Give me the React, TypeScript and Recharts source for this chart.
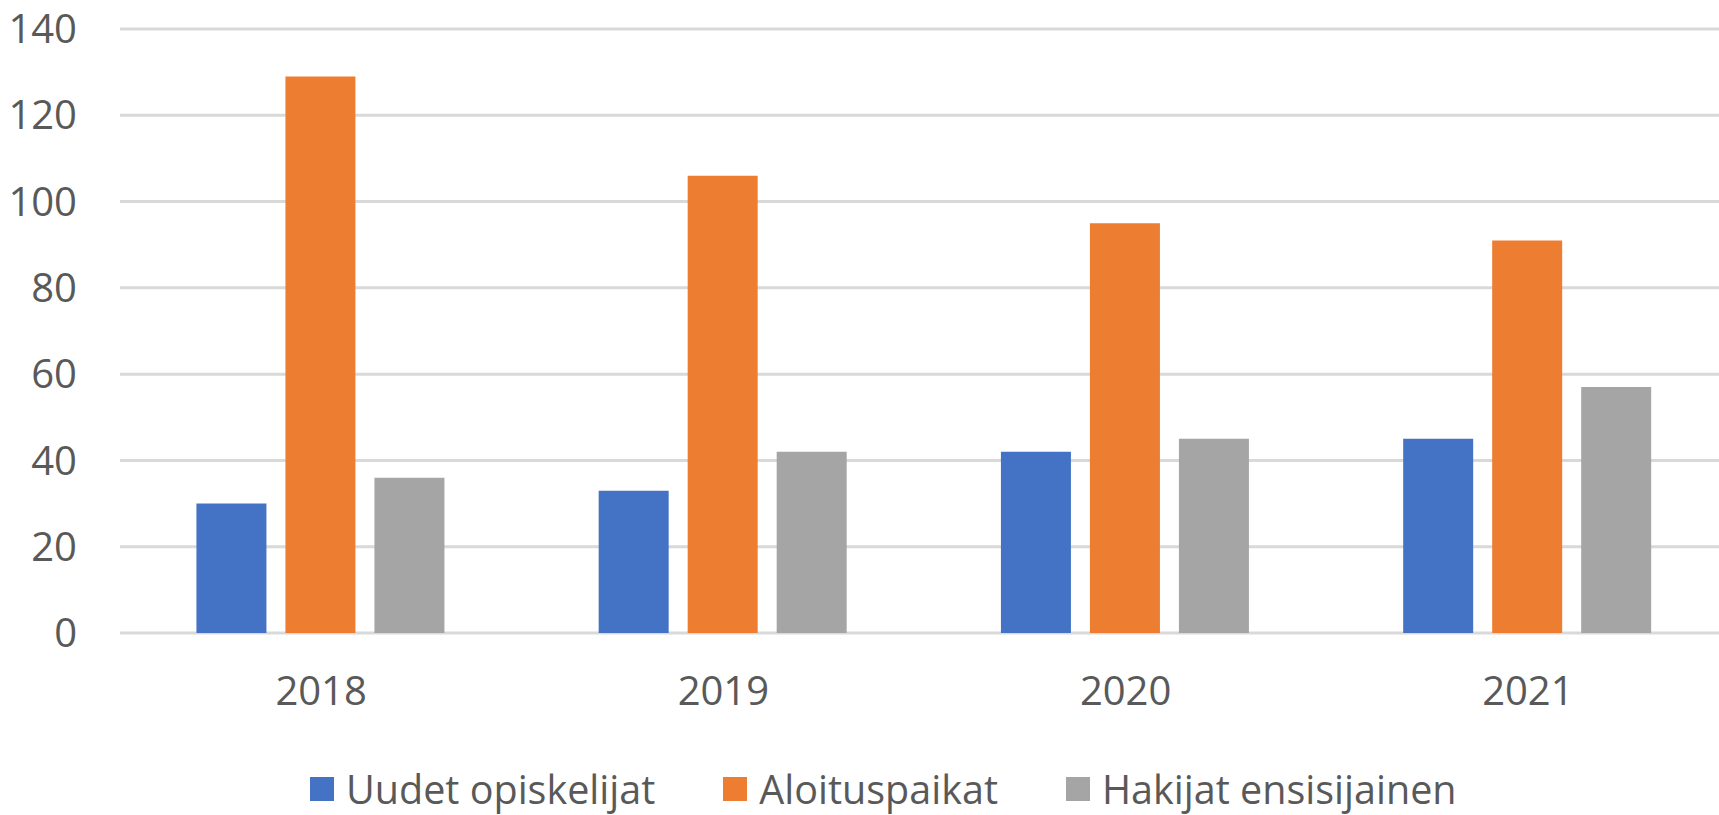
import React from "react";
import {
  BarChart,
  Bar,
  XAxis,
  YAxis,
  CartesianGrid,
  Legend,
} from "recharts";

const years = ["2018", "2019", "2020", "2021"];
const uudetOpiskelijat = [30, 33, 42, 45];
const aloituspaikat = [129, 106, 95, 91];
const hakijatEnsisijainen = [36, 42, 45, 57];
const yTicks = [0, 20, 40, 60, 80, 100, 120, 140];
const seriesOrder = ["Uudet opiskelijat", "Aloituspaikat", "Hakijat ensisijainen"];

const data = years.map((year, i) => ({
  year,
  uudet: uudetOpiskelijat[i],
  aloitus: aloituspaikat[i],
  hakijat: hakijatEnsisijainen[i],
}));

const textColor = "#595959";
const font = "'Open Sans', 'Noto Sans', sans-serif";

function renderLegend(props: any) {
  const items = [...(props.payload || [])].sort(
    (a: any, b: any) => seriesOrder.indexOf(a.value) - seriesOrder.indexOf(b.value)
  );
  return (
    <div style={{ display: "flex", alignItems: "center", fontFamily: font, height: 44 }}>
      {items.map((entry: any, i: number) => (
        <div
          key={i}
          style={{
            display: "flex",
            alignItems: "center",
            marginRight: i < items.length - 1 ? 68 : 0,
          }}
        >
          <span
            style={{
              display: "inline-block",
              width: 24,
              height: 24,
              background: entry.color,
              marginRight: 12,
            }}
          />
          <span
            style={{
              display: "inline-block",
              height: 44,
              fontSize: 39.5,
              color: textColor,
              lineHeight: "44px",
              whiteSpace: "nowrap",
            }}
          >
            {entry.value}
          </span>
        </div>
      ))}
    </div>
  );
}

export default function App() {
  return (
    <div style={{ position: "absolute", left: 0, top: 0, background: "#fff", overflow: "hidden" }}>
      <BarChart
        width={1719}
        height={815}
        data={data}
        margin={{ top: 29, right: -10, left: 0, bottom: 0 }}
        barCategoryGap="19%"
        barGap={19}
      >
        <CartesianGrid
          vertical={false}
          stroke="#d9d9d9"
          strokeWidth={3}
        />
        <XAxis
          dataKey="year"
          axisLine={false}
          tickLine={false}
          tickSize={0}
          tickMargin={44}
          height={138}
          tick={{ fontSize: 40, fill: textColor, fontFamily: font }}
        />
        <YAxis
          domain={[0, 140]}
          ticks={yTicks}
          axisLine={false}
          tickLine={false}
          tickSize={0}
          tickMargin={43}
          width={120}
          tick={{ fontSize: 40, fill: textColor, fontFamily: font }}
        />
        <Legend
          verticalAlign="bottom"
          content={renderLegend}
          wrapperStyle={{ position: "absolute", left: 310, top: 767, width: 1300, height: 44 }}
        />
        <Bar dataKey="uudet" name="Uudet opiskelijat" fill="#4472C4" isAnimationActive={false} />
        <Bar dataKey="aloitus" name="Aloituspaikat" fill="#ED7D31" isAnimationActive={false} />
        <Bar dataKey="hakijat" name="Hakijat ensisijainen" fill="#A5A5A5" isAnimationActive={false} />
      </BarChart>
    </div>
  );
}
